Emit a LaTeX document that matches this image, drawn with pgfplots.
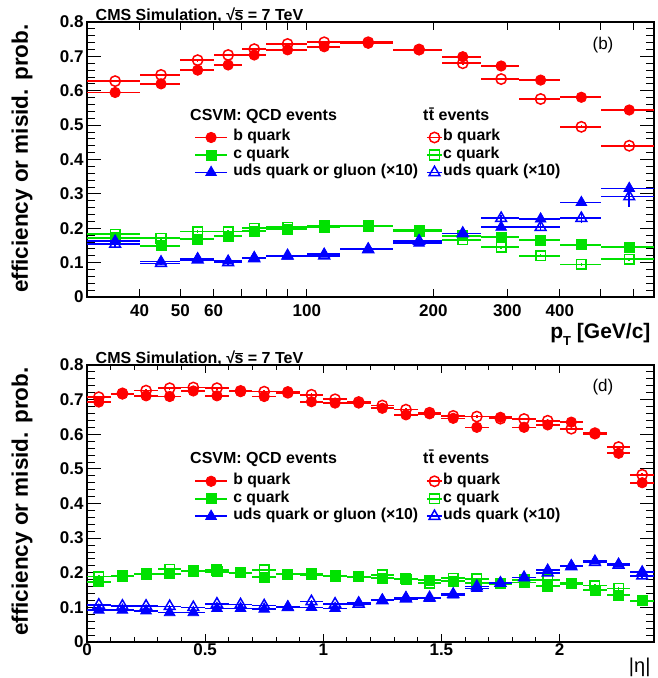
\documentclass[border=0pt]{standalone}
\usepackage{fontspec}
\setmainfont{Liberation Sans}
\usepackage{pgfplots}
\pgfplotsset{compat=1.18}
\usepackage{pgfplotstable}

\definecolor{rootred}{RGB}{255,0,0}
\definecolor{rootgreen}{RGB}{0,225,0}
\definecolor{rootblue}{RGB}{0,0,255}

\newcommand\rts{√\kern-0.6pt$\overline{\mbox{s}}$}
\newcommand\ttbar{t\kern0.3pt\={t}}

% b-tag efficiency (b) and misidentification (c, uds x10) vs jet pT
\pgfplotstableread{
x   xm xp bq    bt    cq    ct    lq    lt    elt
35  5  5  0.595 0.628 0.172 0.183 0.163 0.154 0.010
45  5  5  0.620 0.646 0.149 0.171 0.103 0.098 0.006
55  5  5  0.660 0.689 0.168 0.190 0.112 0.108 0.006
65  5  5  0.675 0.704 0.177 0.190 0.105 0.100 0.006
75  5  5  0.704 0.721 0.192 0.200 0.115 0.112 0.005
90  10 10 0.719 0.736 0.198 0.203 0.119 0.120 0.005
110 10 10 0.728 0.741 0.203 0.207 0.125 0.120 0.005
140 20 20 0.738 0.741 0.205 0.208 0.140 0.138 0.005
185 25 25 0.719 0.720 0.195 0.190 0.157 0.163 0.006
235 25 25 0.699 0.680 0.178 0.166 0.185 0.185 0.008
290 30 30 0.672 0.634 0.174 0.145 0.203 0.229 0.010
360 40 40 0.631 0.576 0.166 0.120 0.227 0.203 0.012
450 50 50 0.581 0.495 0.152 0.095 0.275 0.229 0.015
585 85 85 0.544 0.440 0.145 0.110 0.316 0.292 0.030
}\ptdata

% same quantities vs |eta|
\pgfplotstableread{
x    ex   bq    bt    cq    ct    lq    lt    elt
0.05 0.05 0.693 0.707 0.174 0.189 0.092 0.107 0.004
0.15 0.05 0.716 0.718 0.192 0.190 0.092 0.104 0.004
0.25 0.05 0.711 0.726 0.197 0.195 0.090 0.104 0.004
0.35 0.05 0.709 0.733 0.197 0.210 0.085 0.103 0.004
0.45 0.05 0.725 0.735 0.206 0.205 0.085 0.100 0.004
0.55 0.05 0.711 0.733 0.203 0.208 0.097 0.110 0.004
0.65 0.05 0.723 0.725 0.201 0.200 0.097 0.108 0.004
0.75 0.05 0.709 0.723 0.188 0.208 0.095 0.105 0.004
0.85 0.05 0.723 0.720 0.196 0.196 0.102 0.100 0.004
0.95 0.05 0.694 0.714 0.194 0.198 0.100 0.117 0.004
1.05 0.05 0.690 0.701 0.192 0.190 0.097 0.110 0.004
1.15 0.05 0.690 0.693 0.189 0.188 0.114 0.110 0.004
1.25 0.05 0.675 0.683 0.184 0.194 0.121 0.120 0.004
1.35 0.05 0.656 0.671 0.182 0.183 0.129 0.125 0.004
1.45 0.05 0.659 0.662 0.179 0.170 0.126 0.128 0.004
1.55 0.05 0.646 0.653 0.176 0.184 0.136 0.138 0.004
1.65 0.05 0.620 0.651 0.170 0.182 0.155 0.160 0.004
1.75 0.05 0.649 0.645 0.168 0.170 0.170 0.170 0.004
1.85 0.05 0.620 0.644 0.172 0.179 0.186 0.186 0.004
1.95 0.05 0.627 0.639 0.162 0.179 0.208 0.200 0.005
2.05 0.05 0.635 0.616 0.170 0.168 0.221 0.218 0.005
2.15 0.05 0.601 0.603 0.150 0.163 0.234 0.230 0.005
2.25 0.05 0.545 0.563 0.136 0.155 0.225 0.222 0.006
2.35 0.05 0.460 0.483 0.119 0.120 0.203 0.191 0.008
}\etadata

\tikzset{
  hdr/.style={anchor=base west, font=\bfseries\fontsize{16}{16}\selectfont, inner sep=0pt},
  cms/.style={anchor=base west, font=\bfseries\fontsize{16}{16}\selectfont, inner sep=0pt},
}

\pgfplotsset{
  rootaxis/.style={
    scale only axis, width=567pt,
    clip mode=individual,
    ymin=0, ymax=0.8,
    ytick={0,0.1,0.2,0.3,0.4,0.5,0.6,0.7,0.8},
    yticklabels={0,0.1,0.2,0.3,0.4,0.5,0.6,0.7,0.8},
    minor y tick num=4,
    tick align=inside,
    axis line style={line width=1.2pt},
    every tick/.style={black, line width=0.9pt},
    major tick length=14pt, minor tick length=8pt,
    x tick style={/pgfplots/major tick length=8pt, /pgfplots/minor tick length=4.5pt},
    /pgf/number format/assume math mode=true,
    tick label style={font=\bfseries\fontsize{17}{17}\selectfont},
    ylabel={efficiency or misid. prob.},
    ylabel style={at={(axis description cs:-0.1146,1.004)}, anchor=east,
      font=\bfseries\fontsize{22.5}{22.5}\selectfont},
    legend columns=2,
    legend cell align=left,
    legend style={draw=none, fill=none, inner sep=0pt,
      font=\bfseries\fontsize{15.8}{15.8}\selectfont,
      nodes={inner xsep=0pt, inner ysep=0pt, text height=11pt, text depth=4pt},
      row sep=2.5pt,
      /tikz/every even column/.append style={column sep=8pt}},
  },
  errstyle/.style={error bars/.cd, x dir=both, x explicit, y dir=both, y explicit,
    error mark=none, error bar style={line width=1.6pt, #1}},
  qb/.style={only marks, mark=*, mark size=5.2pt, rootred,
    mark options={fill=rootred, line width=0.8pt}},
  tb/.style={only marks, mark=o, mark size=5.2pt, rootred,
    mark options={fill=white, line width=1.5pt}},
  qc/.style={only marks, mark=square*, mark size=5pt, rootgreen,
    mark options={fill=rootgreen, line width=0.8pt}},
  tc/.style={only marks, mark=square, mark size=4.8pt, rootgreen,
    mark options={fill=white, line width=1.5pt}},
  ql/.style={only marks, mark=triangle*, mark size=6.2pt, rootblue,
    mark options={fill=rootblue, line width=0.8pt}},
  tl/.style={only marks, mark=triangle, mark size=6.2pt, rootblue,
    mark options={fill=white, line width=1.5pt}},
  qcdimg/.style={legend image code/.code={
      \draw[##1, line width=1.8pt] (0pt,0pt) -- (32pt,0pt);
      \draw[##1, only marks] plot coordinates {(16pt,0pt)};
      \path (38pt,0pt);}},
  ttimg/.style={legend image code/.code={
      \draw[##1, line width=1.8pt] (0pt,0pt) -- (15pt,0pt);
      \draw[##1, only marks] plot coordinates {(7.5pt,0pt)};
      \path (16pt,0pt);}},
}

\begin{document}
\begin{tikzpicture}
\path[use as bounding box] (0,0) rectangle (657pt,678pt);

% ---------------- efficiency vs pT ----------------
\begin{axis}[rootaxis,
  at={(87pt,381pt)}, anchor=south west, height=275pt,
  xmode=log, xmin=30, xmax=670,
  xtick={40,50,60,70,80,90,100,200,300,400,500,600},
  xticklabels={40,50,60,,,,100,200,300,400,,},
  minor x tick num=0,
  xticklabel style={yshift=-4.5pt},
  xlabel={p\raisebox{-0.35em}{\fontsize{13}{13}\selectfont T} [GeV/c]},
  xlabel style={at={(axis description cs:1,-0.137)}, anchor=east,
    font=\bfseries\fontsize{21}{21}\selectfont},
  legend style={at={(axis description cs:0.1887,0.608)}, anchor=north west},
]
\addlegendimage{qb, qcdimg}
\addlegendimage{tb, mark options={fill=none, line width=1.5pt}, ttimg}
\addlegendimage{qc, qcdimg}
\addlegendimage{tc, mark options={fill=none, line width=1.5pt}, ttimg}
\addlegendimage{ql, qcdimg}
\addlegendimage{tl, mark options={fill=none, line width=1.5pt}, ttimg}
\legend{b quark, b quark, c quark, c quark, uds quark or gluon (×10), uds quark (×10)}

\addplot[tc, forget plot, errstyle=rootgreen] table[x=x, y=ct, x error minus=xm, x error plus=xp, y error expr=0.004] {\ptdata};
\addplot[qc, forget plot, errstyle=rootgreen] table[x=x, y=cq, x error minus=xm, x error plus=xp, y error expr=0.003] {\ptdata};
\addplot[tl, forget plot, errstyle=rootblue] table[x=x, y=lt, x error minus=xm, x error plus=xp, y error=elt] {\ptdata};
\addplot[ql, forget plot, errstyle=rootblue] table[x=x, y=lq, x error minus=xm, x error plus=xp, y error expr=0.004] {\ptdata};
\addplot[tb, forget plot, errstyle=rootred] table[x=x, y=bt, x error minus=xm, x error plus=xp, y error expr=0.004] {\ptdata};
\addplot[qb, forget plot, errstyle=rootred] table[x=x, y=bq, x error minus=xm, x error plus=xp, y error expr=0.003] {\ptdata};

\node[cms] at (axis description cs:0.015,1.006) {CMS Simulation, \rts\ = 7 TeV};
\node[font=\fontsize{17}{17}\selectfont] at (axis description cs:0.91,0.916) {(b)};
\node[hdr] at (axis description cs:0.1817,0.64) {CSVM: QCD events};
\node[hdr] at (axis description cs:0.5926,0.64) {\ttbar\ events};
\end{axis}

% ---------------- efficiency vs |eta| ----------------
\begin{axis}[rootaxis,
  at={(87pt,36pt)}, anchor=south west, height=277pt,
  xmin=0, xmax=2.4,
  xtick={0,0.5,1,1.5,2},
  xticklabels={0,0.5,1,1.5,2},
  minor x tick num=4,
  xticklabel style={yshift=2pt},
  xlabel={|η|},
  xlabel style={at={(axis description cs:1,-0.09)}, anchor=east,
    font=\fontsize{20}{20}\selectfont},
  legend style={at={(axis description cs:0.1887,0.608)}, anchor=north west},
]
\addlegendimage{qb, qcdimg}
\addlegendimage{tb, mark options={fill=none, line width=1.5pt}, ttimg}
\addlegendimage{qc, qcdimg}
\addlegendimage{tc, mark options={fill=none, line width=1.5pt}, ttimg}
\addlegendimage{ql, qcdimg}
\addlegendimage{tl, mark options={fill=none, line width=1.5pt}, ttimg}
\legend{b quark, b quark, c quark, c quark, uds quark or gluon (×10), uds quark (×10)}

\addplot[tc, forget plot, errstyle=rootgreen] table[x=x, y=ct, x error=ex, y error expr=0.004] {\etadata};
\addplot[qc, forget plot, errstyle=rootgreen] table[x=x, y=cq, x error=ex, y error expr=0.003] {\etadata};
\addplot[tl, forget plot, errstyle=rootblue] table[x=x, y=lt, x error=ex, y error=elt] {\etadata};
\addplot[ql, forget plot, errstyle=rootblue] table[x=x, y=lq, x error=ex, y error expr=0.004] {\etadata};
\addplot[tb, forget plot, errstyle=rootred] table[x=x, y=bt, x error=ex, y error expr=0.004] {\etadata};
\addplot[qb, forget plot, errstyle=rootred] table[x=x, y=bq, x error=ex, y error expr=0.003] {\etadata};

\node[cms] at (axis description cs:0.015,1.006) {CMS Simulation, \rts\ = 7 TeV};
\node[font=\fontsize{17}{17}\selectfont] at (axis description cs:0.91,0.92) {(d)};
\node[hdr] at (axis description cs:0.1817,0.645) {CSVM: QCD events};
\node[hdr] at (axis description cs:0.5926,0.645) {\ttbar\ events};
\end{axis}
\end{tikzpicture}
\end{document}
